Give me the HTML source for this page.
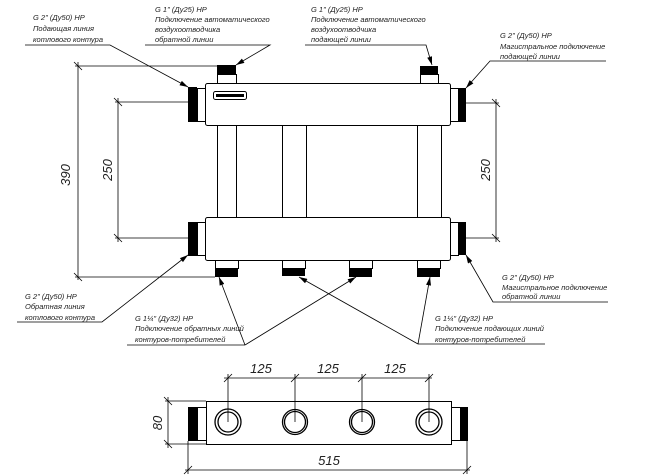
<!DOCTYPE html>
<html><head><meta charset="utf-8"><style>
html,body{margin:0;padding:0;background:#fff;}
svg{display:block;}
text{font-family:"Liberation Sans",sans-serif;font-style:italic;fill:#222;}
.s{font-size:7.5px;}
.d{font-size:13px;}
</style></head><body>
<svg width="659" height="475" viewBox="0 0 659 475" xmlns="http://www.w3.org/2000/svg">
<defs>
<marker id="a" viewBox="0 0 10 6" refX="10" refY="3" markerWidth="12" markerHeight="5" orient="auto" markerUnits="userSpaceOnUse"><path d="M0,0 L10,3 L0,6 z" fill="#000"/></marker>
</defs>
<g stroke="#000" stroke-width="1" fill="none">
<!-- top header -->
<rect x="205.5" y="83.5" width="245" height="42" rx="2" fill="#fff"/>
<rect x="205.5" y="217.5" width="245" height="43" rx="2" fill="#fff"/>
<!-- tubes -->
<rect x="217.5" y="125.5" width="19" height="92" fill="#fff"/>
<rect x="282.5" y="125.5" width="24" height="92" fill="#fff"/>
<rect x="417.5" y="125.5" width="24" height="92" fill="#fff"/>
<!-- logo -->
<rect x="213.5" y="91.5" width="33" height="8" rx="2"/>
<!-- top nipples -->
<rect x="217.5" y="74.5" width="19" height="9" fill="#fff"/>
<rect x="420.5" y="74.5" width="18" height="9" fill="#fff"/>
<!-- side collars -->
<rect x="197.5" y="88.5" width="8" height="33" fill="#fff"/>
<rect x="450.5" y="88.5" width="8" height="33" fill="#fff"/>
<rect x="197.5" y="222.5" width="8" height="33" fill="#fff"/>
<rect x="450.5" y="222.5" width="8" height="33" fill="#fff"/>
<!-- bottom nipples -->
<rect x="215.5" y="260.5" width="23" height="8" fill="#fff"/>
<rect x="282.5" y="260.5" width="23" height="8" fill="#fff"/>
<rect x="349.5" y="260.5" width="23" height="8" fill="#fff"/>
<rect x="417.5" y="260.5" width="23" height="8" fill="#fff"/>
</g>
<g fill="#000">
<rect x="188" y="87" width="9" height="35"/>
<rect x="458" y="88" width="8" height="34"/>
<rect x="188" y="222" width="9" height="34"/>
<rect x="458" y="222" width="8" height="33"/>
<rect x="217" y="65" width="19" height="10"/>
<rect x="420" y="66" width="18" height="9"/>
<rect x="215" y="268" width="23" height="9"/>
<rect x="282" y="268" width="23" height="8"/>
<rect x="349" y="268" width="23" height="9"/>
<rect x="417" y="268" width="23" height="9"/>
<rect x="216" y="94" width="28" height="3"/>
</g>
<!-- dimensions top view -->
<g stroke="#000" stroke-width="0.8" fill="none">
<line x1="75" y1="66" x2="217" y2="66"/>
<line x1="75" y1="277" x2="215" y2="277"/>
<line x1="78" y1="62" x2="78" y2="280"/>
<line x1="74" y1="62" x2="82" y2="70"/><line x1="74" y1="273" x2="82" y2="281"/>
<line x1="115" y1="102" x2="188" y2="102"/>
<line x1="115" y1="238" x2="188" y2="238"/>
<line x1="118" y1="98" x2="118" y2="242"/>
<line x1="114" y1="98" x2="122" y2="106"/><line x1="114" y1="234" x2="122" y2="242"/>
<line x1="466" y1="103" x2="499" y2="103"/>
<line x1="466" y1="238" x2="499" y2="238"/>
<line x1="496" y1="99" x2="496" y2="242"/>
<line x1="492" y1="99" x2="500" y2="107"/><line x1="492" y1="234" x2="500" y2="242"/>
</g>
<text class="d" transform="translate(70,175) rotate(-90)" text-anchor="middle">390</text>
<text class="d" transform="translate(112,170) rotate(-90)" text-anchor="middle">250</text>
<text class="d" transform="translate(490,170) rotate(-90)" text-anchor="middle">250</text>
<!-- leaders -->
<g stroke="#000" stroke-width="0.8" fill="none">
<polyline points="25,45 110,45 188,87" marker-end="url(#a)"/>
<polyline points="145,45 270,45 236,65" marker-end="url(#a)"/>
<polyline points="305,45 426,45 432,65" marker-end="url(#a)"/>
<polyline points="606,61 490,61 466,88" marker-end="url(#a)"/>
<polyline points="17,322 102,322 188,255" marker-end="url(#a)"/>
<polyline points="608,302 493,302 466,255" marker-end="url(#a)"/>
<line x1="127" y1="345" x2="245" y2="345"/>
<line x1="245" y1="345" x2="219" y2="277" marker-end="url(#a)"/>
<line x1="245" y1="345" x2="356" y2="277" marker-end="url(#a)"/>
<line x1="418" y1="344" x2="545" y2="344"/>
<line x1="418" y1="344" x2="299" y2="277" marker-end="url(#a)"/>
<line x1="418" y1="344" x2="430" y2="277" marker-end="url(#a)"/>
</g>
<text class="s" x="33" y="20">G 2" (Ду50) НР</text>
<text class="s" x="33" y="31">Подающая линия</text>
<text class="s" x="33" y="42">котлового контура</text>
<text class="s" x="155" y="12">G 1" (Ду25) НР</text>
<text class="s" x="155" y="22">Подключение автоматического</text>
<text class="s" x="155" y="32">воздухоотводчика</text>
<text class="s" x="155" y="42">обратной линии</text>
<text class="s" x="311" y="12">G 1" (Ду25) НР</text>
<text class="s" x="311" y="22">Подключение автоматического</text>
<text class="s" x="311" y="32">воздухоотводчика</text>
<text class="s" x="311" y="42">подающей линии</text>
<text class="s" x="500" y="38">G 2" (Ду50) НР</text>
<text class="s" x="500" y="49">Магистральное подключение</text>
<text class="s" x="500" y="59">подающей линии</text>
<text class="s" x="25" y="299">G 2" (Ду50) НР</text>
<text class="s" x="25" y="309">Обратная линия</text>
<text class="s" x="25" y="320">котлового контура</text>
<text class="s" x="135" y="321">G 1¼" (Ду32) НР</text>
<text class="s" x="135" y="331">Подключение обратных линий</text>
<text class="s" x="135" y="342">контуров-потребителей</text>
<text class="s" x="435" y="321">G 1¼" (Ду32) НР</text>
<text class="s" x="435" y="331">Подключение подающих линий</text>
<text class="s" x="435" y="342">контуров-потребителей</text>
<text class="s" x="502" y="280">G 2" (Ду50) НР</text>
<text class="s" x="502" y="290">Магистральное подключение</text>
<text class="s" x="502" y="299">обратной линии</text>
<!-- bottom view -->
<g stroke="#000" stroke-width="1" fill="none">
<rect x="206.5" y="401.5" width="245" height="43" fill="#fff"/>
<rect x="197.5" y="407.5" width="9" height="33"/>
<rect x="451.5" y="407.5" width="9" height="33"/>
<g stroke-width="1.3">
<circle cx="228" cy="422" r="13"/><circle cx="228" cy="422" r="10"/>
<circle cx="295" cy="422" r="12.5"/><circle cx="295" cy="422" r="10.5"/>
<circle cx="362" cy="422" r="12.5"/><circle cx="362" cy="422" r="10.5"/>
<circle cx="429" cy="422" r="13"/><circle cx="429" cy="422" r="10"/>
</g>
</g>
<rect x="188" y="407" width="9" height="34" fill="#000"/>
<rect x="460" y="407" width="8" height="34" fill="#000"/>
<g stroke="#000" stroke-width="0.8" fill="none">
<line x1="224" y1="378" x2="432" y2="378"/>
<line x1="228" y1="374" x2="228" y2="422"/><line x1="295" y1="374" x2="295" y2="422"/>
<line x1="362" y1="374" x2="362" y2="422"/><line x1="429" y1="374" x2="429" y2="422"/>
<line x1="224" y1="382" x2="232" y2="374"/><line x1="291" y1="382" x2="299" y2="374"/>
<line x1="358" y1="382" x2="366" y2="374"/><line x1="425" y1="382" x2="433" y2="374"/>
<line x1="165" y1="401" x2="206" y2="401"/>
<line x1="165" y1="444" x2="206" y2="444"/>
<line x1="168" y1="397" x2="168" y2="448"/>
<line x1="164" y1="397" x2="172" y2="405"/><line x1="164" y1="440" x2="172" y2="448"/>
<line x1="188" y1="441" x2="188" y2="474"/>
<line x1="467" y1="441" x2="467" y2="474"/>
<line x1="185" y1="470" x2="470" y2="470"/>
<line x1="184" y1="474" x2="192" y2="466"/><line x1="463" y1="474" x2="471" y2="466"/>
</g>
<text class="d" x="261" y="373" text-anchor="middle">125</text>
<text class="d" x="328" y="373" text-anchor="middle">125</text>
<text class="d" x="395" y="373" text-anchor="middle">125</text>
<text class="d" transform="translate(162,423) rotate(-90)" text-anchor="middle">80</text>
<text class="d" x="329" y="465" text-anchor="middle">515</text>
</svg>
</body></html>
